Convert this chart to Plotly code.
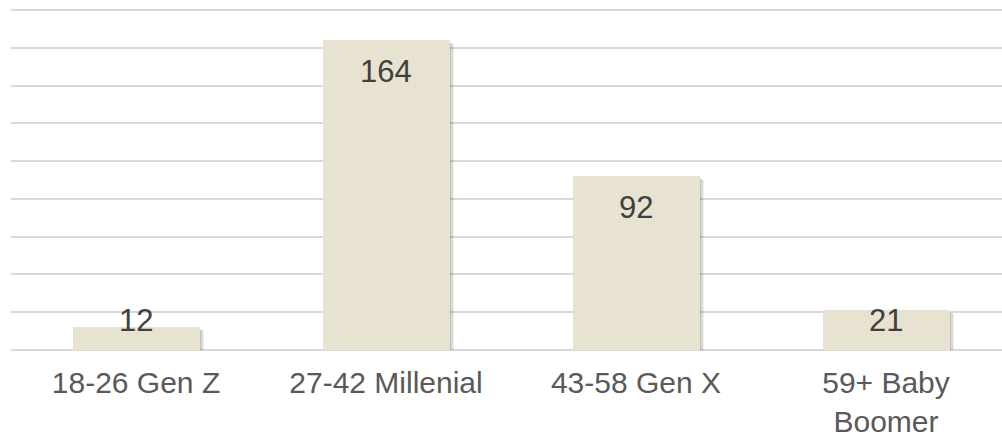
import plotly.graph_objects as go

# Respondent counts by generation
categories = ["18-26 Gen Z", "27-42 Millenial", "43-58 Gen X", "59+ Baby Boomer"]
tick_text = ["18-26 Gen Z", "27-42 Millenial", "43-58 Gen X", "59+ Baby<br>Boomer"]
counts = [12, 164, 92, 21]

Y_MAX = 180
GRID_TOP, PLOT_BOTTOM = 10, 350
PX_PER_UNIT = (PLOT_BOTTOM - GRID_TOP) / Y_MAX
HEADROOM_PX = 4
CAT_PX = 250
BAR_W = 0.508
FONT = "Liberation Sans, Arial, sans-serif"

x_idx = list(range(len(categories)))

fig = go.Figure()

# soft drop shadow behind each bar, shifted right/down a few pixels
for shift, alpha in [(4, 0.06), (3, 0.09), (1.5, 0.12)]:
    fig.add_trace(go.Bar(
        x=x_idx, y=counts,
        base=[-shift / PX_PER_UNIT] * len(counts),
        width=BAR_W,
        offset=-BAR_W / 2 + shift / CAT_PX,
        marker=dict(color=f"rgba(0,0,0,{alpha})", line=dict(width=0)),
        hoverinfo="skip", showlegend=False,
    ))

fig.add_trace(go.Bar(
    x=x_idx, y=counts,
    width=BAR_W,
    offset=-BAR_W / 2,
    marker=dict(color="#E8E3D0", line=dict(width=0)),
    showlegend=False,
))

# value labels sit inside the top of each bar, kept clear of the baseline
for i, v in enumerate(counts):
    label_y = max(v - 31 / PX_PER_UNIT, 30 / PX_PER_UNIT)
    fig.add_annotation(
        x=i, y=label_y, text=str(v), showarrow=False,
        xanchor="center", yanchor="middle",
        font=dict(family=FONT, size=31, color="#404040"),
    )

fig.update_layout(
    width=1002, height=438,
    margin=dict(l=11, r=0, t=GRID_TOP - HEADROOM_PX, b=438 - PLOT_BOTTOM),
    paper_bgcolor="white", plot_bgcolor="white",
    barmode="overlay",
    bargap=0,
)
fig.update_xaxes(
    range=[-0.5, -0.5 + (1002 - 11) / CAT_PX],
    tickmode="array", tickvals=x_idx, ticktext=tick_text,
    showgrid=False, zeroline=False, showline=False, ticks="",
    ticklabelstandoff=12, automargin=False,
    tickfont=dict(family=FONT, size=30, color="#595959"),
)
fig.update_yaxes(
    range=[0, Y_MAX + HEADROOM_PX / PX_PER_UNIT], dtick=20, showticklabels=False,
    showgrid=True, gridcolor="#D9D9D9", gridwidth=2,
    zeroline=True, zerolinecolor="#D9D9D9", zerolinewidth=2,
    showline=False, ticks="", automargin=False,
)

fig.write_html("out.html")
